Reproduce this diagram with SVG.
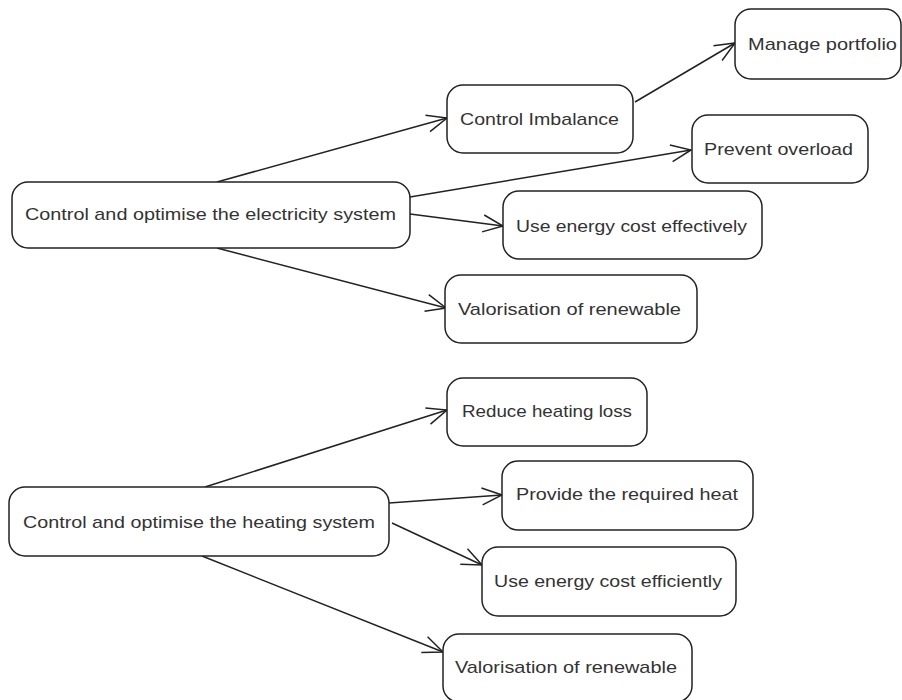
<svg xmlns="http://www.w3.org/2000/svg" width="902" height="700" viewBox="0 0 902 700">
<style>
.node rect{fill:#fff;stroke:#222;stroke-width:1.5}
.node text{font-family:"Liberation Sans","DejaVu Sans",sans-serif;font-size:17px;fill:#333}
.edges line{stroke:#222;stroke-width:1.5;fill:none;marker-end:url(#arr)}
</style>
<defs>
<marker id="arr" viewBox="-22 -10 24 20" refX="0" refY="0" markerWidth="24" markerHeight="20" markerUnits="userSpaceOnUse" orient="auto">
<path d="M-20,-8.5 L0,0 L-20,8.5" fill="none" stroke="#222" stroke-width="1.5"/>
</marker>
</defs>
<rect width="902" height="700" fill="#fff"/>
<g class="edges">
<line x1="217" y1="182" x2="447" y2="118"/>
<line x1="410" y1="197" x2="691" y2="150"/>
<line x1="410" y1="214" x2="503" y2="226"/>
<line x1="217" y1="248" x2="446" y2="308"/>
<line x1="635" y1="102" x2="735" y2="43"/>
<line x1="205" y1="487" x2="447" y2="410"/>
<line x1="389" y1="503" x2="502" y2="495"/>
<line x1="392" y1="523" x2="482" y2="565"/>
<line x1="202" y1="556" x2="443" y2="652"/>
</g>
<g id="n-elec" class="node"><rect x="12" y="182" width="398" height="66" rx="16"/><text x="25" y="220" textLength="371" lengthAdjust="spacingAndGlyphs">Control and optimise the electricity system</text></g>
<g id="n-imbalance" class="node"><rect x="447" y="85" width="186" height="68" rx="16"/><text x="460" y="125" textLength="159" lengthAdjust="spacingAndGlyphs">Control Imbalance</text></g>
<g id="n-portfolio" class="node"><rect x="735" y="9" width="166" height="70" rx="16"/><text x="748" y="50" textLength="149" lengthAdjust="spacingAndGlyphs">Manage portfolio</text></g>
<g id="n-overload" class="node"><rect x="692" y="115" width="176" height="68" rx="16"/><text x="704" y="155" textLength="149" lengthAdjust="spacingAndGlyphs">Prevent overload</text></g>
<g id="n-costeff" class="node"><rect x="503" y="191" width="259" height="68" rx="16"/><text x="516" y="232" textLength="231" lengthAdjust="spacingAndGlyphs">Use energy cost effectively</text></g>
<g id="n-renew1" class="node"><rect x="445" y="275" width="252" height="68" rx="16"/><text x="458" y="315" textLength="223" lengthAdjust="spacingAndGlyphs">Valorisation of renewable</text></g>
<g id="n-heat" class="node"><rect x="9" y="487" width="380" height="69" rx="16"/><text x="23" y="528" textLength="352" lengthAdjust="spacingAndGlyphs">Control and optimise the heating system</text></g>
<g id="n-loss" class="node"><rect x="447" y="378" width="200" height="68" rx="16"/><text x="462" y="417" textLength="170" lengthAdjust="spacingAndGlyphs">Reduce heating loss</text></g>
<g id="n-provide" class="node"><rect x="502" y="461" width="251" height="69" rx="16"/><text x="516" y="500" textLength="222" lengthAdjust="spacingAndGlyphs">Provide the required heat</text></g>
<g id="n-costeffi" class="node"><rect x="482" y="547" width="254" height="69" rx="16"/><text x="494" y="587" textLength="228" lengthAdjust="spacingAndGlyphs">Use energy cost efficiently</text></g>
<g id="n-renew2" class="node"><rect x="443" y="634" width="249" height="68" rx="16"/><text x="455" y="673" textLength="222" lengthAdjust="spacingAndGlyphs">Valorisation of renewable</text></g>
</svg>
